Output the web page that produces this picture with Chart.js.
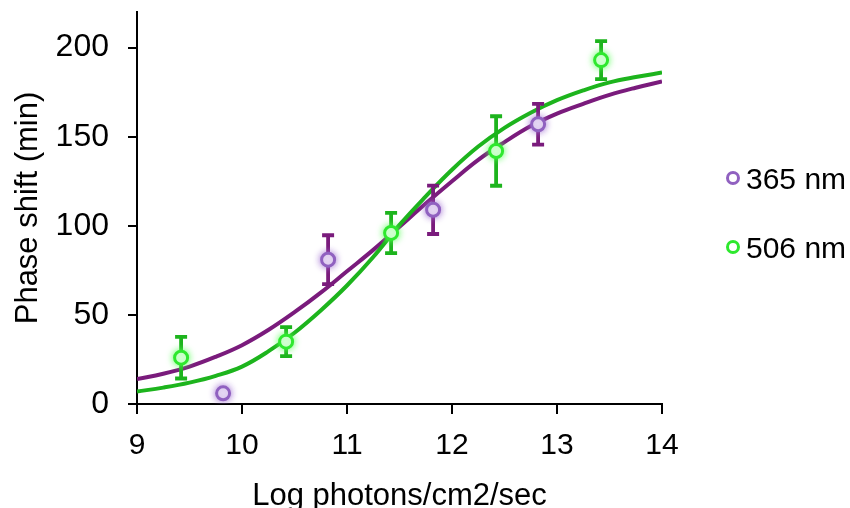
<!DOCTYPE html>
<html>
<head>
<meta charset="utf-8">
<script src="https://cdn.jsdelivr.net/npm/chart.js@4.4.1/dist/chart.umd.min.js"></script>
<style>
  html, body { margin: 0; padding: 0; background: #fff; }
  #wrap { width: 850px; height: 508px; position: relative; }
</style>
</head>
<body>
<div id="wrap"><canvas id="phaseChart"></canvas></div>
<script>
// measured phase shifts (mean and error) per wavelength
const x365 = [9.82, 10.82, 11.82, 12.82];
const y365 = [6, 81, 109, 157];
const err365 = [0, 13.7, 13.6, 11.4];

const x506 = [9.42, 10.42, 11.42, 12.42, 13.42];
const y506 = [26, 35, 96, 142, 193];
const err506 = [11.7, 8.1, 11.3, 19.5, 10.7];

// fitted dose-response curves, sampled along the x axis
const fitX = [9, 9.25, 9.5, 9.75, 10, 10.25, 10.5, 10.75, 11, 11.25, 11.5, 11.75, 12, 12.25, 12.5, 12.75, 13, 13.25, 13.5, 13.75, 14];
const fit365 = [14, 17, 21, 26.5, 33, 41.5, 51.5, 62.5, 74.5, 86.5, 99.5, 112.5, 125, 137, 147, 156, 163, 168.5, 173.5, 177.5, 181];
const fit506 = [7, 9.2, 12, 15.8, 21, 29.5, 40, 52.5, 66.5, 82.5, 100.5, 116.5, 131.5, 144.5, 155, 163.5, 170.5, 176, 180.5, 183.5, 186];

const xTicks = [9, 10, 11, 12, 13, 14];
const yTicks = [0, 50, 100, 150, 200];
const seriesLabels = ['365 nm', '506 nm'];

const purpleLine = '#7a1b7c';
const purpleMark = '#9061c0';
const greenLine = '#1db41d';
const greenMark = '#2ee82e';
const fontFamily = '"Liberation Sans", Arial, sans-serif';

function pts(xs, ys) {
    return xs.map((x, i) => ({ x: x, y: ys[i] }));
}

// vertical error bars under each point, plus a soft glow on the markers
const errorBars = {
    id: 'errorBars',
    beforeDatasetDraw(chart, args) {
        const ds = chart.data.datasets[args.index];
        const ctx = chart.ctx;
        if (ds.errors) {
            const xs = chart.scales.x, ys = chart.scales.y;
            ctx.save();
            ctx.strokeStyle = ds.errorColor;
            ctx.lineWidth = 3.8;
            ds.data.forEach((p, i) => {
                const e = ds.errors[i];
                if (!e) return;
                const px = xs.getPixelForValue(p.x);
                const top = ys.getPixelForValue(p.y + e);
                const bot = ys.getPixelForValue(p.y - e);
                ctx.beginPath();
                ctx.moveTo(px, top); ctx.lineTo(px, bot);
                ctx.moveTo(px - 6, top); ctx.lineTo(px + 6, top);
                ctx.moveTo(px - 6, bot); ctx.lineTo(px + 6, bot);
                ctx.stroke();
            });
            ctx.restore();
        }
        if (ds.glow) {
            ctx.save();
            ctx.shadowColor = ds.glow;
            ctx.shadowBlur = 7;
        }
    },
    afterDatasetDraw(chart, args) {
        const ds = chart.data.datasets[args.index];
        if (ds.glow) chart.ctx.restore();
    }
};

// legend on the right: ring marker + label
const sideLegend = {
    id: 'sideLegend',
    afterDraw(chart) {
        const ctx = chart.ctx;
        const rows = [
            { label: seriesLabels[0], color: purpleMark, y: 178 },
            { label: seriesLabels[1], color: greenMark, y: 247 }
        ];
        ctx.save();
        rows.forEach(r => {
            ctx.beginPath();
            ctx.arc(733, r.y, 5.5, 0, Math.PI * 2);
            ctx.fillStyle = '#fff';
            ctx.fill();
            ctx.lineWidth = 3;
            ctx.strokeStyle = r.color;
            ctx.stroke();
            ctx.fillStyle = '#000';
            ctx.font = '30px ' + fontFamily;
            ctx.textAlign = 'left';
            ctx.textBaseline = 'middle';
            ctx.fillText(r.label, 746, r.y + 3);
        });
        ctx.restore();
    }
};

const ctx = document.getElementById('phaseChart').getContext('2d');

const phaseChart = new Chart(ctx, {
    type: 'scatter',
    data: {
        datasets: [
            {
                label: seriesLabels[0],
                data: pts(x365, y365),
                errors: err365,
                errorColor: purpleLine,
                glow: 'rgba(160,110,210,0.9)',
                pointRadius: 6.5,
                pointBorderWidth: 3,
                pointBackgroundColor: '#fff',
                pointBorderColor: purpleMark,
                order: 2
            },
            {
                label: seriesLabels[1],
                data: pts(x506, y506),
                errors: err506,
                errorColor: greenLine,
                glow: 'rgba(90,255,90,0.9)',
                pointRadius: 6.5,
                pointBorderWidth: 3,
                pointBackgroundColor: '#fff',
                pointBorderColor: greenMark,
                order: 1
            },
            {
                label: 'fit 365',
                data: pts(fitX, fit365),
                showLine: true,
                pointRadius: 0,
                borderColor: purpleLine,
                borderWidth: 4,
                tension: 0.4,
                order: 4
            },
            {
                label: 'fit 506',
                data: pts(fitX, fit506),
                showLine: true,
                pointRadius: 0,
                borderColor: greenLine,
                borderWidth: 4,
                tension: 0.4,
                order: 3
            }
        ]
    },
    options: {
        responsive: true,
        maintainAspectRatio: false,
        animation: false,
        layout: {
            padding: { left: 0, right: 188, top: 12, bottom: 0 }
        },
        plugins: {
            legend: { display: false },
            tooltip: { enabled: false }
        },
        scales: {
            x: {
                type: 'linear',
                min: 9,
                max: 14,
                afterBuildTicks: s => { s.ticks = xTicks.map(v => ({ value: v })); },
                afterFit: s => { s.height = 104; s.paddingLeft = 0; s.paddingRight = 0; },
                grid: { drawOnChartArea: false, drawTicks: true, tickLength: 10, color: '#000', lineWidth: 2 },
                border: { color: '#000', width: 2 },
                ticks: { color: '#000', padding: 14, font: { size: 30, family: fontFamily } },
                title: {
                    display: true,
                    text: 'Log photons/cm2/sec',
                    color: '#000',
                    font: { size: 31, family: fontFamily, lineHeight: 1.2 },
                    padding: { top: 0, bottom: -7 }
                }
            },
            y: {
                type: 'linear',
                min: 0,
                max: 220,
                bounds: 'data',
                afterBuildTicks: s => { s.ticks = yTicks.map(v => ({ value: v })); },
                afterFit: s => { s.width = 137; s.paddingTop = 0; s.paddingBottom = 0; },
                grid: { drawOnChartArea: false, drawTicks: true, tickLength: 9, color: '#000', lineWidth: 2 },
                border: { color: '#000', width: 2 },
                ticks: { color: '#000', padding: 19, font: { size: 32, family: fontFamily } },
                title: {
                    display: true,
                    text: 'Phase shift (min)',
                    color: '#000',
                    font: { size: 31, family: fontFamily, lineHeight: 1.2 },
                    padding: { top: 10, bottom: 0 }
                }
            }
        }
    },
    plugins: [errorBars, sideLegend]
});
</script>
</body>
</html>
